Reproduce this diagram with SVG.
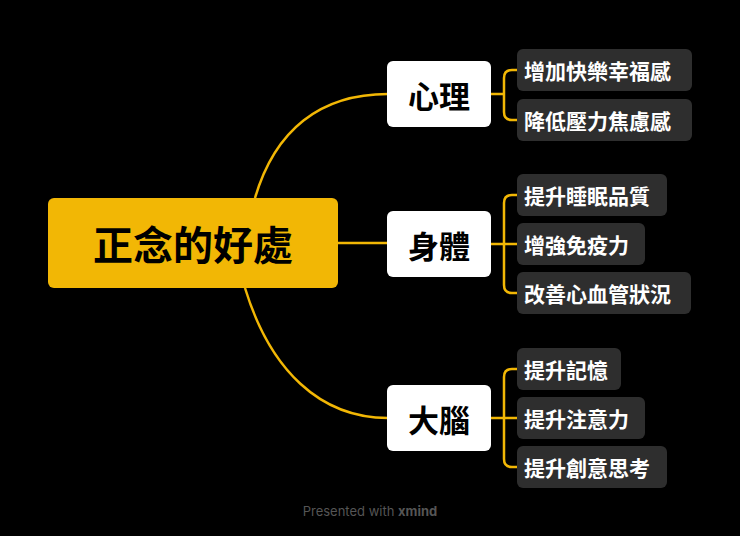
<svg xmlns="http://www.w3.org/2000/svg" width="740" height="536" viewBox="0 0 740 536">
<style>
.c{fill:none;stroke:#F2B705;stroke-width:2.5}
.b{fill:#fff}
.l{fill:#2e2e2e}
.bt{font-family:"Noto Sans CJK TC","Noto Sans CJK SC",sans-serif;font-weight:700;font-size:31px;fill:#000;text-anchor:middle;dominant-baseline:central}
.lt{font-family:"Noto Sans CJK TC","Noto Sans CJK SC",sans-serif;font-weight:700;font-size:21px;fill:#fff;dominant-baseline:central}
</style>
<rect width="740" height="536" fill="#000"/>
<g id="connectors">
<path class="c" d="M255 198 C275 130 320 94 388 94"/>
<path class="c" d="M338 243 H388"/>
<path class="c" d="M245 288 C270 370 320 418 388 418"/>
<path class="c" d="M491 94 H504 M517 70 H512 Q504 70 504 78 V112 Q504 120 512 120 H517"/>
<path class="c" d="M491 244 H517 M517 195 H512 Q504 195 504 203 V285 Q504 293 512 293 H517"/>
<path class="c" d="M491 418 H517 M517 369 H512 Q504 369 504 377 V459 Q504 467 512 467 H517"/>
</g>
<g id="root"><rect x="48" y="198" width="290" height="90" rx="6" fill="#F2B705"/><text x="193" y="243" class="bt" style="font-size:40px">正念的好處</text></g>
<g id="n1"><rect class="b" x="387" y="61" width="104" height="66" rx="6"/><text class="bt" x="439" y="94">心理</text></g>
<g id="n2"><rect class="b" x="387" y="211" width="104" height="66" rx="6"/><text class="bt" x="439" y="244">身體</text></g>
<g id="n3"><rect class="b" x="387" y="385" width="104" height="66" rx="6"/><text class="bt" x="439" y="418">大腦</text></g>
<g id="l1"><rect class="l" x="517" y="49" width="175" height="42" rx="6"/><text class="lt" x="524" y="70">增加快樂幸福感</text></g>
<g id="l2"><rect class="l" x="517" y="99" width="175" height="42" rx="6"/><text class="lt" x="524" y="120">降低壓力焦慮感</text></g>
<g id="l3"><rect class="l" x="517" y="174" width="150" height="42" rx="6"/><text class="lt" x="524" y="195">提升睡眠品質</text></g>
<g id="l4"><rect class="l" x="517" y="223" width="128" height="42" rx="6"/><text class="lt" x="524" y="244">增強免疫力</text></g>
<g id="l5"><rect class="l" x="517" y="272" width="174" height="42" rx="6"/><text class="lt" x="524" y="293">改善心血管狀況</text></g>
<g id="l6"><rect class="l" x="517" y="348" width="104" height="42" rx="6"/><text class="lt" x="524" y="369">提升記憶</text></g>
<g id="l7"><rect class="l" x="517" y="397" width="128" height="42" rx="6"/><text class="lt" x="524" y="418">提升注意力</text></g>
<g id="l8"><rect class="l" x="517" y="446" width="150" height="42" rx="6"/><text class="lt" x="524" y="467">提升創意思考</text></g>
<text x="370" y="516" text-anchor="middle" font-family="Inter,sans-serif" font-size="13" fill="#555">Presented with <tspan font-weight="700">xmind</tspan></text>
</svg>
